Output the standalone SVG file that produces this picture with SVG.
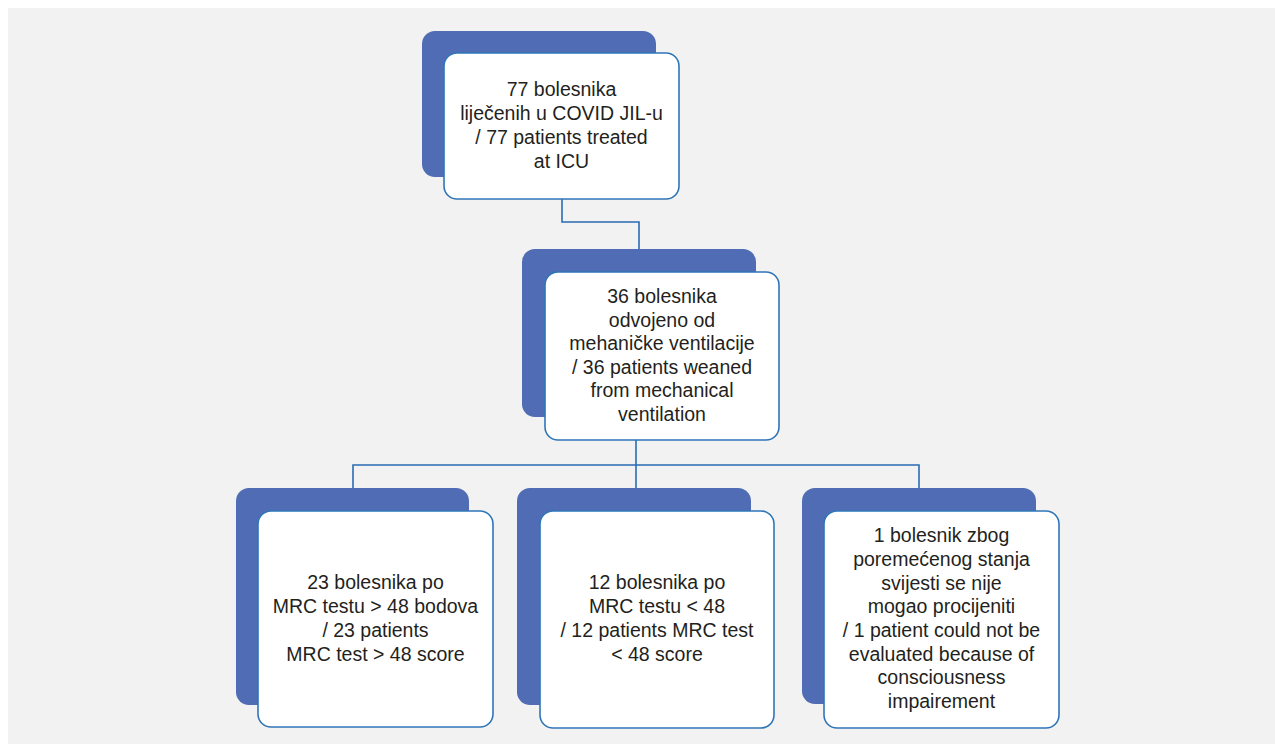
<svg xmlns="http://www.w3.org/2000/svg" width="1275" height="744" viewBox="0 0 1275 744">
<style>
.bg{fill:#f2f2f2}
.shadow{fill:#4f6cb4}
.box{fill:#ffffff;stroke:#2f76b8;stroke-width:1.6}
.conn{fill:none;stroke:#2a6cb2;stroke-width:1.6}
text{font-family:"Liberation Sans",Arial,sans-serif;font-size:19.5px;fill:#231f20;text-anchor:middle}
</style>
<rect x="0" y="0" width="1275" height="744" fill="#ffffff"/>
<rect class="bg" x="8" y="8" width="1267" height="736"/>
<g id="connectors">
<polyline class="conn" points="562,199 562,222 639,222 639,249"/>
<line class="conn" x1="636" y1="440" x2="636" y2="488"/>
<polyline class="conn" points="353,488 353,465 919,465 919,488"/>
</g>
<g id="node1">
<rect class="shadow" x="422" y="31" width="234" height="146" rx="13"/>
<rect class="box" x="444" y="53" width="235" height="146" rx="13"/>
<text x="561.5" y="96">77 bolesnika</text>
<text x="561.5" y="120">liječenih u COVID JIL-u</text>
<text x="561.5" y="144">/ 77 patients treated</text>
<text x="561.5" y="168">at ICU</text>
</g>
<g id="node2">
<rect class="shadow" x="522" y="249" width="234" height="168" rx="13"/>
<rect class="box" x="545" y="272" width="234" height="168" rx="13"/>
<text x="662" y="303">36 bolesnika</text>
<text x="662" y="327">odvojeno od</text>
<text x="662" y="350">mehaničke ventilacije</text>
<text x="662" y="374">/ 36 patients weaned</text>
<text x="662" y="397">from mechanical</text>
<text x="662" y="421">ventilation</text>
</g>
<g id="node3">
<rect class="shadow" x="236" y="488" width="233" height="217" rx="13"/>
<rect class="box" x="258" y="511" width="235" height="216" rx="13"/>
<text x="375.5" y="589">23 bolesnika po</text>
<text x="375.5" y="613">MRC testu &gt; 48 bodova</text>
<text x="375.5" y="637">/ 23 patients</text>
<text x="375.5" y="661">MRC test &gt; 48 score</text>
</g>
<g id="node4">
<rect class="shadow" x="517" y="488" width="234" height="217" rx="13"/>
<rect class="box" x="540" y="511" width="234" height="217" rx="13"/>
<text x="657" y="589">12 bolesnika po</text>
<text x="657" y="613">MRC testu &lt; 48</text>
<text x="657" y="637">/ 12 patients MRC test</text>
<text x="657" y="661">&lt; 48 score</text>
</g>
<g id="node5">
<rect class="shadow" x="802" y="488" width="234" height="216" rx="13"/>
<rect class="box" x="824" y="511" width="235" height="217" rx="13"/>
<text x="941.5" y="542">1 bolesnik zbog</text>
<text x="941.5" y="566">poremećenog stanja</text>
<text x="941.5" y="590">svijesti se nije</text>
<text x="941.5" y="613">mogao procijeniti</text>
<text x="941.5" y="637">/ 1 patient could not be</text>
<text x="941.5" y="661">evaluated because of</text>
<text x="941.5" y="684">consciousness</text>
<text x="941.5" y="708">impairement</text>
</g>
</svg>
